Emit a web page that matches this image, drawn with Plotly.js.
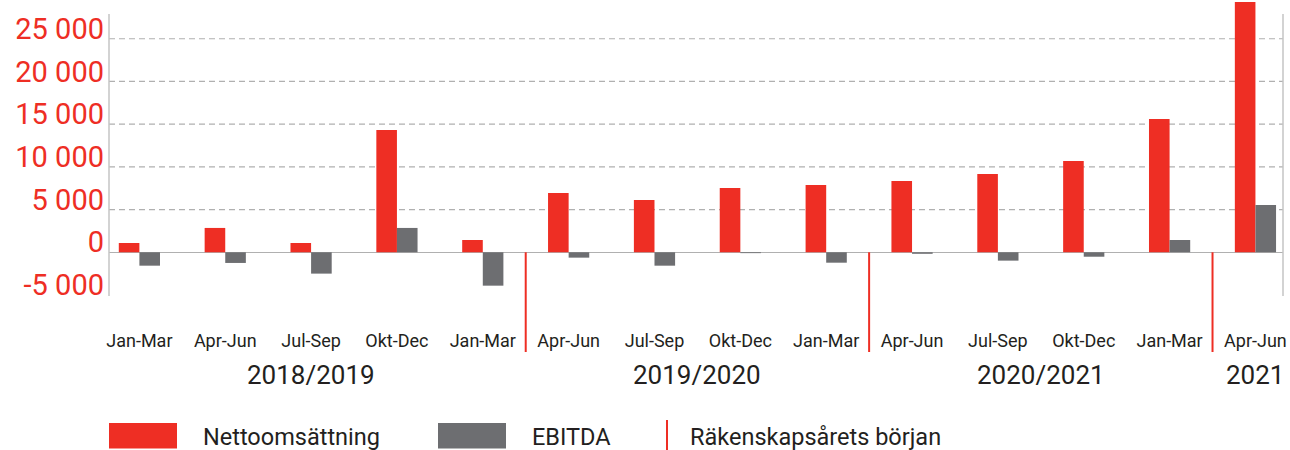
<!DOCTYPE html>
<html>
<head>
<meta charset="utf-8">
<script src="https://cdn.plot.ly/plotly-3.0.1.min.js"></script>
<style>html,body{margin:0;padding:0;background:#fff;}#chart{width:1290px;height:450px;}</style>
</head>
<body>
<div id="chart"></div>
<script>
// ---- data ----
const quarters = ['Jan-Mar','Apr-Jun','Jul-Sep','Okt-Dec','Jan-Mar','Apr-Jun','Jul-Sep','Okt-Dec','Jan-Mar','Apr-Jun','Jul-Sep','Okt-Dec','Jan-Mar','Apr-Jun'];
const nettoomsattning = [1090, 2850, 1090, 14320, 1440, 6940, 6120, 7530, 7880, 8350, 9170, 10690, 15610, 29310];
const ebitda = [-1570, -1250, -2500, 2850, -3910, -630, -1570, -100, -1220, -180, -980, -520, 1440, 5540];
const fiscalYears = ['2018/2019', '2019/2020', '2020/2021', '2021'];
const fiscalYearFirst = [0, 5, 9, 13];
const fiscalYearLast = [4, 8, 12, 13];
const yTickVals = [-5000, 0, 5000, 10000, 15000, 20000, 25000];
const yTickText = ['-5 000', '0', '5 000', '10 000', '15 000', '20 000', '25 000'];
const seriesNames = ['Nettoomsättning', 'EBITDA', 'Räkenskapsårets början'];

// ---- style ----
const RED = '#ee2e24', GREY = '#6d6e71', TXT = '#231f20', LINE = '#b0b0b0', AXIS = '#c4c4c4';
const yRange = [-5120, 29540];
const frameTop = 27900;
const xRange = [-0.354, 13.321];
const idx = quarters.map((_, i) => i);
const H = 296; // plot height in px
const zeroFrac = (0 - yRange[0]) / (yRange[1] - yRange[0]);

const traces = [
  {type: 'bar', name: seriesNames[0], x: idx, y: nettoomsattning, marker: {color: RED}, hoverinfo: 'y'},
  {type: 'bar', name: seriesNames[1], x: idx, y: ebitda, marker: {color: GREY}, hoverinfo: 'y'}
];

const shapes = [];
const annotations = [];
// dashed gridlines (positive ticks)
yTickVals.filter(v => v > 0).forEach(v => {
  shapes.push({type: 'line', layer: 'below', xref: 'paper', yref: 'y', x0: 0, x1: 1, y0: v, y1: v,
    line: {color: LINE, width: 1.2, dash: '6px,4px'}});
});
// left / right frame lines
[0, 1].forEach(x => {
  shapes.push({type: 'line', layer: 'above', xref: 'paper', yref: 'y', x0: x, x1: x, y0: yRange[0], y1: frameTop,
    line: {color: AXIS, width: 1.5}});
});
// fiscal year separators
fiscalYearFirst.slice(1).forEach(f => {
  shapes.push({type: 'line', xref: 'x', yref: 'paper', x0: f - 0.5, x1: f - 0.5, y0: zeroFrac, y1: -(352 - H) / H,
    line: {color: RED, width: 2}});
});
// fiscal year labels
fiscalYears.forEach((fy, k) => {
  annotations.push({text: fy, xref: 'x', yref: 'paper', x: (fiscalYearFirst[k] + fiscalYearLast[k]) / 2,
    y: -(375 - H) / H, xanchor: 'center', yanchor: 'middle', showarrow: false,
    font: {family: 'Roboto', size: 26, color: TXT}});
});
// legend
const px = v => (v - 109) / 1174;
const py = v => (H - v) / H;
shapes.push({type: 'rect', xref: 'paper', yref: 'paper', x0: px(109), x1: px(177), y0: py(448.5), y1: py(423), fillcolor: RED, line: {width: 0}});
shapes.push({type: 'rect', xref: 'paper', yref: 'paper', x0: px(438), x1: px(506), y0: py(448.5), y1: py(423), fillcolor: GREY, line: {width: 0}});
shapes.push({type: 'line', xref: 'paper', yref: 'paper', x0: px(667), x1: px(667), y0: py(420), y1: py(451), line: {color: RED, width: 2}});
[[201, seriesNames[0]], [530, seriesNames[1]], [688, seriesNames[2]]].forEach(([x, t]) => {
  annotations.push({text: t, xref: 'paper', yref: 'paper', x: px(x), y: py(437), xanchor: 'left', yanchor: 'middle',
    showarrow: false, font: {family: 'Roboto', size: 23.5, color: TXT}});
});

const layout = {
  width: 1290, height: 450,
  margin: {l: 109, r: 7, t: 0, b: 154, pad: 0},
  paper_bgcolor: '#fff', plot_bgcolor: '#fff',
  showlegend: false,
  barmode: 'group', bargap: 0.52, bargroupgap: 0,
  font: {family: 'Roboto', color: TXT},
  xaxis: {
    range: xRange, tickmode: 'array', tickvals: idx, ticktext: quarters,
    showgrid: false, zeroline: false, showline: false, ticks: '',
    ticklabelstandoff: 32, tickangle: 0,
    tickfont: {family: 'Roboto', size: 18, color: TXT}
  },
  yaxis: {
    range: yRange, tickmode: 'array', tickvals: yTickVals, ticktext: yTickText,
    showgrid: false, zeroline: true, zerolinecolor: LINE, zerolinewidth: 1.5,
    showline: false, ticks: '', ticklabelstandoff: 4, ticklabelshift: -10,
    tickfont: {family: 'Roboto', size: 29, color: RED}
  },
  shapes: shapes,
  annotations: annotations
};

Plotly.newPlot('chart', traces, layout, {displayModeBar: false, staticPlot: true});
</script>
</body>
</html>
